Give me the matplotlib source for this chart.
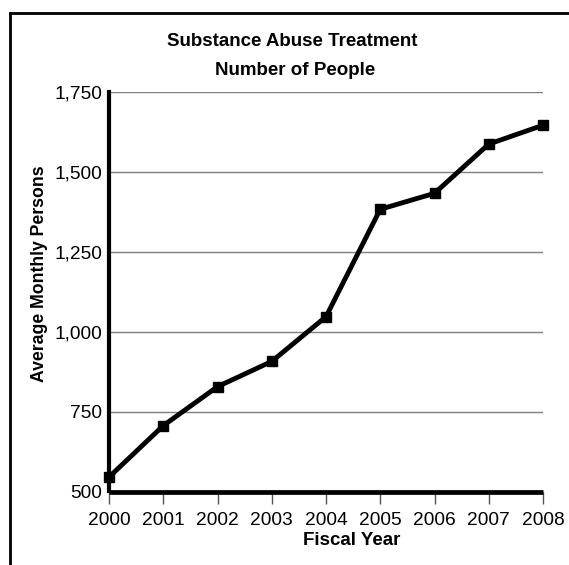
import matplotlib
matplotlib.use("Agg")
import matplotlib.pyplot as plt
from matplotlib.lines import Line2D

plt.rcParams['font.family'] = ['Liberation Sans', 'DejaVu Sans']

# data
years = [2000, 2001, 2002, 2003, 2004, 2005, 2006, 2007, 2008]
persons = [545, 706, 828, 907, 1047, 1383, 1433, 1587, 1646]
y_ticks = [500, 750, 1000, 1250, 1500, 1750]
y_labels = ['500', '750', '1,000', '1,250', '1,500', '1,750']

fig = plt.figure(figsize=(5.69, 5.65), dpi=100)
ax = fig.add_axes([109/569, 1 - 491.5/565, (543 - 109)/569, (491.5 - 92)/565])

ax.plot(years, persons, color='black', lw=3.5, marker='s', markersize=6.5,
        markeredgecolor='black', clip_on=False, zorder=5)

ax.set_xlim(2000, 2008)
ax.set_ylim(500, 1750)
ax.set_xticks(years)
ax.set_xticklabels([str(y) for y in years])
ax.set_yticks(y_ticks)
ax.set_yticklabels(y_labels)

ax.grid(axis='y', color='#7f7f7f', lw=1.0)
ax.set_axisbelow(True)

for s in ['top', 'right']:
    ax.spines[s].set_visible(False)
ax.spines['left'].set_linewidth(3)
ax.spines['bottom'].set_linewidth(3.4)
ax.spines['bottom'].set_capstyle('butt')

ax.tick_params(axis='x', length=8.5, width=1, color='#555555', labelsize=13.8, pad=6)
ax.tick_params(axis='y', length=0, labelsize=13.8, pad=5)

# titles and labels
fig.text(0.5128, 1 - 46/565, 'Substance Abuse Treatment', ha='center', va='baseline',
         fontsize=13.5, fontweight='bold')
fig.text(0.518, 1 - 75/565, 'Number of People', ha='center', va='baseline',
         fontsize=13.5, fontweight='bold')
fig.text(351.7/569, 1 - 545/565, 'Fiscal Year', ha='center', va='baseline',
         fontsize=13.5, fontweight='bold')
fig.text(40/569, 1 - 274/565, 'Average Monthly Persons', ha='center', va='center',
         rotation=90, fontsize=12.7, fontweight='bold')

# frame: top and left edges only
fig.add_artist(Line2D([9.5/569, 1], [1 - 13.3/565, 1 - 13.3/565], color='black', lw=2,
                      transform=fig.transFigure))
fig.add_artist(Line2D([9.5/569, 9.5/569], [0, 1 - 13.3/565], color='black', lw=2,
                      transform=fig.transFigure))

fig.savefig('out.png', dpi=100)
